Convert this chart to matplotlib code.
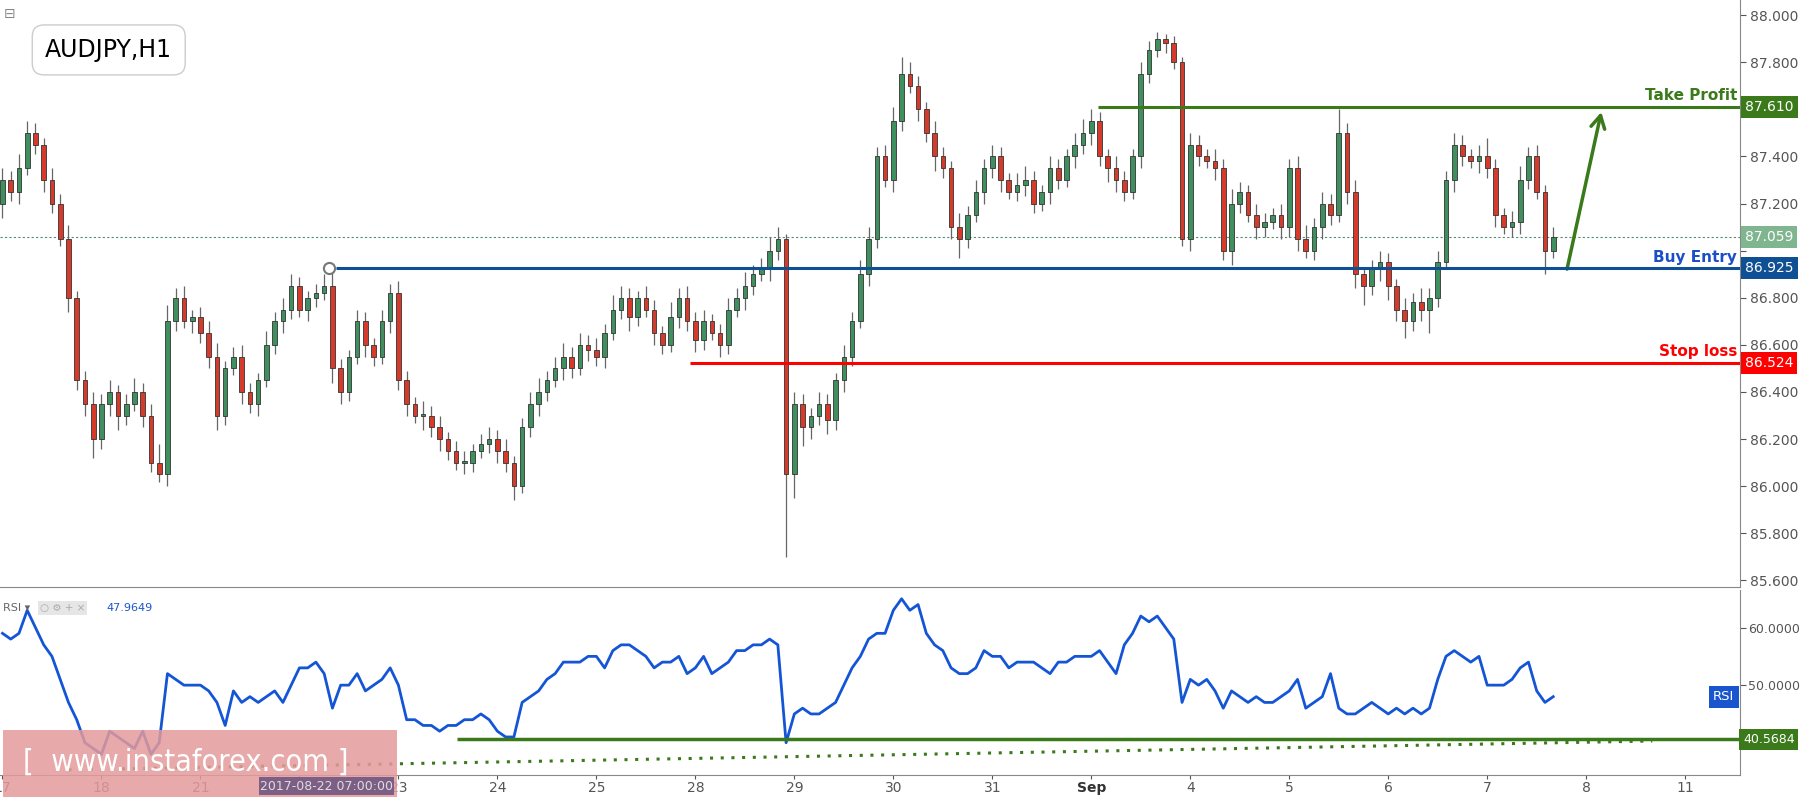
import matplotlib.pyplot as plt
from matplotlib.patches import Rectangle
import numpy as np

# --- data (2h candles, 12 per trading day) ---
day_labels = ["17", "18", "21", "", "23", "24", "25", "28", "29", "30", "31",
              "Sep", "4", "5", "6", "7", "8", "11"]

closes = [
    87.30, 87.25, 87.35, 87.50, 87.45, 87.30, 87.20, 87.05, 86.80, 86.45, 86.35, 86.20,
    86.35, 86.40, 86.30, 86.35, 86.40, 86.30, 86.10, 86.05, 86.70, 86.80, 86.70, 86.72,
    86.65, 86.55, 86.30, 86.50, 86.55, 86.40, 86.35, 86.45, 86.60, 86.70, 86.75, 86.85,
    86.75, 86.80, 86.82, 86.85, 86.50, 86.40, 86.55, 86.70, 86.60, 86.55, 86.70, 86.82,
    86.45, 86.35, 86.30, 86.30, 86.25, 86.20, 86.15, 86.10, 86.10, 86.15, 86.18, 86.20,
    86.15, 86.10, 86.00, 86.25, 86.35, 86.40, 86.45, 86.50, 86.55, 86.50, 86.60, 86.58,
    86.55, 86.65, 86.75, 86.80, 86.72, 86.80, 86.75, 86.65, 86.60, 86.72, 86.80, 86.70,
    86.62, 86.70, 86.65, 86.60, 86.75, 86.80, 86.85, 86.90, 86.92, 87.00, 87.05, 86.05,
    86.35, 86.25, 86.30, 86.35, 86.28, 86.45, 86.55, 86.70, 86.90, 87.05, 87.40, 87.30,
    87.55, 87.75, 87.70, 87.60, 87.50, 87.40, 87.35, 87.10, 87.05, 87.15, 87.25, 87.35,
    87.40, 87.30, 87.25, 87.28, 87.30, 87.20, 87.25, 87.35, 87.30, 87.40, 87.45, 87.50,
    87.55, 87.40, 87.35, 87.30, 87.25, 87.40, 87.75, 87.85, 87.90, 87.88, 87.80, 87.05,
    87.45, 87.40, 87.38, 87.35, 87.00, 87.20, 87.25, 87.15, 87.10, 87.12, 87.15, 87.10,
    87.35, 87.05, 87.00, 87.10, 87.20, 87.15, 87.50, 87.25, 86.90, 86.85, 86.92, 86.95,
    86.85, 86.75, 86.70, 86.78, 86.75, 86.80, 86.95, 87.30, 87.45, 87.40, 87.38, 87.40,
    87.35, 87.15, 87.10, 87.12, 87.30, 87.40, 87.25, 87.00, 87.06,
]
first_open = 87.20

# wick lengths beyond the body, in hundredths of a yen
wick_up = [
    5, 4, 6, 5, 4, 3, 5, 4, 6, 3, 4, 5,
    4, 5, 3, 4, 6, 4, 5, 8, 7, 4, 5, 3,
    4, 5, 6, 3, 4, 5, 4, 3, 6, 4, 5, 5,
    4, 3, 4, 5, 6, 4, 3, 5, 4, 3, 5, 4,
    5, 4, 3, 6, 4, 5, 3, 4, 5, 3, 4, 5,
    4, 5, 3, 4, 5, 6, 4, 5, 6, 4, 5, 4,
    5, 4, 6, 5, 4, 3, 5, 4, 3, 6, 4, 5,
    4, 5, 3, 4, 5, 4, 6, 4, 5, 6, 5, 2,
    5, 4, 3, 5, 4, 3, 5, 4, 6, 5, 4, 5,
    6, 7, 5, 4, 3, 5, 4, 3, 6, 4, 5, 4,
    5, 4, 3, 5, 6, 4, 3, 5, 4, 3, 5, 6,
    5, 4, 3, 5, 4, 3, 5, 4, 3, 2, 3, 2,
    5, 4, 3, 5, 4, 6, 4, 3, 5, 4, 3, 5,
    4, 5, 6, 4, 5, 4, 10, 4, 5, 3, 4, 5,
    4, 3, 5, 4, 6, 4, 5, 4, 5, 4, 3, 5,
    8, 4, 3, 5, 6, 4, 5, 3, 4,
]
wick_dn = [
    6, 4, 5, 3, 4, 5, 4, 3, 6, 4, 5, 8,
    4, 5, 6, 4, 3, 5, 4, 3, 5, 4, 3, 5,
    4, 5, 6, 4, 3, 5, 4, 5, 3, 4, 5, 4,
    3, 5, 4, 3, 6, 5, 4, 3, 5, 4, 3, 5,
    4, 5, 3, 6, 4, 5, 4, 3, 5, 4, 3, 4,
    5, 4, 6, 3, 4, 5, 4, 3, 5, 4, 3, 5,
    4, 5, 3, 4, 6, 4, 3, 5, 4, 3, 5, 4,
    5, 4, 3, 5, 4, 3, 5, 4, 3, 5, 4, 35,
    10, 8, 5, 4, 6, 4, 5, 4, 3, 5, 4, 3,
    5, 4, 3, 5, 4, 6, 4, 5, 8, 4, 3, 5,
    4, 5, 3, 4, 5, 4, 3, 5, 4, 3, 5, 4,
    5, 4, 6, 5, 4, 3, 5, 4, 3, 4, 3, 3,
    5, 4, 3, 5, 4, 6, 4, 3, 5, 4, 3, 5,
    4, 5, 3, 4, 5, 4, 3, 5, 6, 8, 4, 5,
    6, 5, 7, 4, 5, 10, 4, 3, 5, 4, 3, 5,
    4, 5, 3, 4, 5, 4, 3, 10, 3,
]

rsi = [
    59, 58, 59, 63, 60, 57, 55, 51, 47, 44, 40, 39,
    38, 42, 41, 40, 39, 42, 38, 40, 52, 51, 50, 50,
    50, 49, 47, 43, 49, 47, 48, 47, 48, 49, 47, 50,
    53, 53, 54, 52, 46, 50, 50, 52, 49, 50, 51, 53,
    50, 44, 44, 43, 43, 42, 43, 43, 44, 44, 45, 44,
    42, 41, 41, 47, 48, 49, 51, 52, 54, 54, 54, 55,
    55, 53, 56, 57, 57, 56, 55, 53, 54, 54, 55, 52,
    53, 55, 52, 53, 54, 56, 56, 57, 57, 58, 57, 40,
    45, 46, 45, 45, 46, 47, 50, 53, 55, 58, 59, 59,
    63, 65, 63, 64, 59, 57, 56, 53, 52, 52, 53, 56,
    55, 55, 53, 54, 54, 54, 53, 52, 54, 54, 55, 55,
    55, 56, 54, 52, 57, 59, 62, 61, 62, 60, 58, 47,
    51, 50, 51, 49, 46, 49, 48, 47, 48, 47, 47, 48,
    49, 51, 46, 47, 48, 52, 46, 45, 45, 46, 47, 46,
    45, 46, 45, 46, 45, 46, 51, 55, 56, 55, 54, 55,
    50, 50, 50, 51, 53, 54, 49, 47, 48,
]

take_profit, buy_entry, stop_loss, last_price = 87.610, 86.925, 86.524, 87.059
rsi_level, rsi_last = 40.5684, 47.9649

GREEN_UP, RED_DN, EDGE = "#3f8f5f", "#d63a2a", "#333333"
TP_GREEN, BLUE, RED = "#3a7a1a", "#0f4f94", "#ff0000"

W, H = 1565.0, 693.0   # layout worked out on the reference at this scale
fig = plt.figure(figsize=(18.03, 7.98), dpi=100)
ax = fig.add_axes([0, 1 - 510 / H, 1510 / W, 510 / H])
ax_r = fig.add_axes([0, 1 - 673 / H, 1510 / W, 161 / H], sharex=ax)

n = len(closes)
x = np.arange(n)
opens = [first_open] + closes[:-1]
for i in range(n):
    o, c = opens[i], closes[i]
    hi = max(o, c) + wick_up[i] / 100
    lo = min(o, c) - wick_dn[i] / 100
    col = GREEN_UP if c >= o else RED_DN
    ax.vlines(i, lo, hi, color="#666666", lw=0.9, zorder=2)
    ax.add_patch(Rectangle((i - 0.28, min(o, c)), 0.56, max(abs(c - o), 0.008),
                           facecolor=col, edgecolor=EDGE, lw=0.6, zorder=3))

x_right = 1510 / 7.17
ax.set_xlim(-0.3, x_right)
ax.set_ylim(85.571, 88.064)

ax.axhline(last_price, color="#4f8f6a", lw=0.8, ls=(0, (2, 2)), zorder=1)
ax.hlines(buy_entry, 40.4, x_right, color=BLUE, lw=2.2, zorder=4)
ax.plot(39.6, buy_entry, "o", mfc="white", mec="#777777", ms=8, mew=1.5, zorder=5)
ax.hlines(stop_loss, 83.3, x_right, color=RED, lw=2.2, zorder=4)
ax.hlines(take_profit, 132.8, x_right, color=TP_GREEN, lw=2.2, zorder=4)
ax.annotate("", xy=(193.9, 87.60), xytext=(189.6, 86.91),
            arrowprops=dict(arrowstyle="->,head_length=0.9,head_width=0.5",
                            color=TP_GREEN, lw=2.5))

for lvl, txt, col in [(take_profit, "Take Profit", TP_GREEN),
                      (buy_entry, "Buy Entry", "#1a4fc8"),
                      (stop_loss, "Stop loss", RED)]:
    ax.text(x_right - 0.3, lvl + 0.015, txt, color=col, fontsize=11, fontweight="bold",
            ha="right", va="bottom", zorder=6)

ax.text(0.026, 0.915, "AUDJPY,H1", transform=ax.transAxes, fontsize=17,
        va="center", ha="left", zorder=7,
        bbox=dict(boxstyle="round,pad=0.55,rounding_size=0.5", fc="white",
                  ec="#cccccc", lw=1))

# right price axis; labels hidden behind the coloured value boxes are left out
price_ticks = np.arange(85.6, 88.01, 0.2)
ax.yaxis.tick_right()
ax.set_yticks(price_ticks)
ax.set_yticklabels(["" if round(v, 1) in (87.0, 87.6) else f"{v:.3f}" for v in price_ticks])
ax.tick_params(axis="y", colors="#555555", labelsize=10, length=4, direction="out")
ax.tick_params(axis="x", bottom=False, labelbottom=False)
for s in ["left", "top"]:
    ax.spines[s].set_visible(False)
ax.spines["right"].set_color("#888888")
ax.spines["bottom"].set_color("#888888")

for lvl, col in [(take_profit, TP_GREEN), (last_price, "#7fb58f"),
                 (buy_entry, BLUE), (stop_loss, RED)]:
    ax.text(1.003, lvl, f"{lvl:.3f}", transform=ax.get_yaxis_transform(),
            color="white", fontsize=10, va="center", ha="left",
            bbox=dict(boxstyle="square,pad=0.3", fc=col, ec="none"), clip_on=False)

# RSI pane
ax_r.plot(x, rsi, color="#1455d6", lw=2)
ax_r.set_ylim(34.4, 66.6)
ax_r.hlines(rsi_level, 55.1, x_right, color=TP_GREEN, lw=2.5)
ax_r.plot([8, 200], [35.3, 40.3], color=TP_GREEN, lw=2.2, ls=(0, (1, 2.5)))
ax_r.yaxis.tick_right()
ax_r.set_yticks([50, 60])
ax_r.set_yticklabels(["50.0000", "60.0000"])
ax_r.tick_params(axis="y", colors="#555555", labelsize=9, length=4, pad=2)
ax_r.set_xticks(np.arange(0, 12 * len(day_labels), 12))
ax_r.set_xticklabels(day_labels)
ax_r.tick_params(axis="x", colors="#555555", labelsize=10, length=3, pad=1)
for lab in ax_r.get_xticklabels():
    if lab.get_text() == "Sep":
        lab.set_fontweight("bold")
        lab.set_color("#333333")
for s in ["left", "top"]:
    ax_r.spines[s].set_visible(False)
ax_r.spines["right"].set_color("#888888")
ax_r.spines["bottom"].set_color("#888888")
ax_r.text(1.002, rsi_level, f"{rsi_level:.4f}", transform=ax_r.get_yaxis_transform(),
          color="white", fontsize=9, va="center", ha="left",
          bbox=dict(boxstyle="square,pad=0.3", fc=TP_GREEN, ec="none"), clip_on=False)
ax_r.text(0.997, rsi_last, "RSI", transform=ax_r.get_yaxis_transform(), color="white",
          fontsize=9.5, va="center", ha="right",
          bbox=dict(boxstyle="square,pad=0.35", fc="#1a55d0", ec="none"))
ax_r.text(0.002, 0.9, "RSI \u25be", transform=ax_r.transAxes, color="#666666",
          fontsize=8, va="center")
ax_r.text(0.023, 0.9, "\u25cb \u2699 + \u00d7", transform=ax_r.transAxes, color="#aaaaaa",
          fontsize=7.5, va="center",
          bbox=dict(boxstyle="square,pad=0.2", fc="#e6e6e6", ec="none"))
ax_r.text(0.061, 0.9, f"{rsi_last:.4f}", transform=ax_r.transAxes, color="#1a55d0",
          fontsize=8, va="center")

# watermark and crosshair date box (figure coordinates)
fig.patches.append(Rectangle((3 / W, 1 - 692 / H), 342 / W, 58 / H, transform=fig.transFigure,
                             fc="#e39a9a", ec="none", alpha=0.85, zorder=10))
fig.text(20 / W, 1 - 662 / H, "[  www.instaforex.com ]", color="white", fontsize=22,
         va="center", ha="left", zorder=11, fontstretch="condensed")
fig.patches.append(Rectangle((225 / W, 1 - 690 / H), 117 / W, 15 / H, transform=fig.transFigure,
                             fc="#7d5f86", ec="none", zorder=12))
fig.text(283 / W, 1 - 683 / H, "2017-08-22 07:00:00", color="#dddddd", fontsize=9,
         va="center", ha="center", zorder=13)
fig.text(3 / W, 1 - 12 / H, "\u229f", color="#888888", fontsize=10, va="center")

fig.savefig("out.png", dpi=100)
